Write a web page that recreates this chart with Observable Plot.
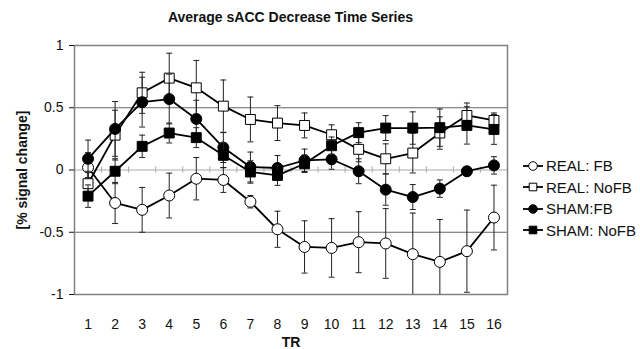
<!DOCTYPE html>
<html>
<head>
<meta charset="utf-8">
<script src="https://cdn.jsdelivr.net/npm/d3@7"></script>
<script src="https://cdn.jsdelivr.net/npm/@observablehq/plot@0.6"></script>
<style>
  html, body { margin: 0; padding: 0; background: #fff; }
  #wrap { position: relative; width: 640px; height: 349px; font-family: "Liberation Sans", Arial, sans-serif; }
  #title { position: absolute; left: 74px; width: 433px; top: 9px; text-align: center; font-weight: bold; font-size: 14px; color: #111; }
  #legend { position: absolute; left: 521px; top: 155px; font-size: 15px; color: #111; }
  .row { height: 21.5px; display: flex; align-items: center; white-space: nowrap; }
  .row svg { margin-right: 1px; }
  svg [aria-label="y-axis label"], svg [aria-label="x-axis label"] { font-weight: bold; }
</style>
</head>
<body>
<div id="wrap">
  <div id="chart"></div>
  <div id="title">Average sACC Decrease Time Series</div>
  <div id="legend"></div>
</div>
<script>
const TR = [1, 2, 3, 4, 5, 6, 7, 8, 9, 10, 11, 12, 13, 14, 15, 16];
const seriesNames = ["REAL: FB", "REAL: NoFB", "SHAM:FB", "SHAM: NoFB"];

const realFB     = [0.02, -0.265, -0.32, -0.205, -0.07, -0.08, -0.255, -0.476, -0.618, -0.626, -0.58, -0.59, -0.676, -0.738, -0.652, -0.382];
const realFBErr  = [0.12, 0.165, 0.18, 0.18, 0.17, 0.1, 0.05, 0.145, 0.21, 0.235, 0.245, 0.28, 0.33, 0.34, 0.33, 0.26];
const realNoFB    = [-0.11, 0.28, 0.62, 0.738, 0.66, 0.513, 0.406, 0.377, 0.358, 0.283, 0.166, 0.09, 0.136, 0.297, 0.438, 0.398];
const realNoFBErr = [0.1, 0.2, 0.165, 0.2, 0.22, 0.21, 0.18, 0.14, 0.1, 0.08, 0.1, 0.12, 0.16, 0.13, 0.1, 0.06];
const shamFB     = [0.09, 0.33, 0.545, 0.57, 0.41, 0.18, 0.024, 0.016, 0.078, 0.086, -0.01, -0.158, -0.217, -0.15, -0.01, 0.037];
const shamFBErr  = [0.15, 0.22, 0.2, 0.2, 0.15, 0.12, 0.12, 0.1, 0.09, 0.08, 0.1, 0.125, 0.1, 0.07, 0.03, 0.07];
const shamNoFB    = [-0.21, -0.01, 0.19, 0.297, 0.26, 0.118, -0.016, -0.043, 0.05, 0.195, 0.3, 0.337, 0.337, 0.34, 0.358, 0.326];
const shamNoFBErr = [0.09, 0.1, 0.09, 0.08, 0.08, 0.1, 0.09, 0.08, 0.07, 0.07, 0.08, 0.1, 0.13, 0.15, 0.15, 0.12];

const yTicks = [-1, -0.5, 0, 0.5, 1];

const styles = [
  {symbol: "circle", fill: "white", r: 5.5},
  {symbol: "square", fill: "white", r: 5.6},
  {symbol: "circle", fill: "black", r: 5.5},
  {symbol: "square", fill: "black", r: 5.6}
];
const allValues = [realFB, realNoFB, shamFB, shamNoFB];
const allErr = [realFBErr, realNoFBErr, shamFBErr, shamNoFBErr];

const series = seriesNames.map((name, k) => ({
  name, ...styles[k],
  rows: TR.map((t, i) => ({tr: t, v: allValues[k][i], e: allErr[k][i]}))
}));

const bounds = TR.slice(0, -1).map(t => t + 0.5);
const capHalf = 0.11;

const marks = [
  Plot.ruleY([0.5, -0.5], {stroke: "#666", strokeWidth: 1.2}),
  Plot.ruleY([0], {stroke: "#aaa", strokeWidth: 1.2}),
  Plot.ruleX(bounds, {y1: -0.025, y2: 0.025, stroke: "#aaa"}),
  Plot.frame({stroke: "#808080", strokeWidth: 1.5}),
  Plot.axisY({ticks: yTicks, tickFormat: d => String(d), tickSize: 5, tickPadding: 6, fontSize: 14,
              label: "[% signal change]", labelAnchor: "center", labelOffset: 57, labelArrow: "none"}),
  Plot.axisX({ticks: TR, tickFormat: d => String(d), tickSize: 0, tickPadding: 25, fontSize: 14,
              label: "TR", labelAnchor: "center", labelOffset: 52, labelArrow: "none"})
];

for (const s of series) {
  marks.push(
    Plot.ruleX(s.rows, {x: "tr", y1: d => d.v - d.e, y2: d => d.v + d.e, stroke: "#222", strokeWidth: 1, clip: true}),
    Plot.link(s.rows, {x1: d => d.tr - capHalf, x2: d => d.tr + capHalf, y1: d => d.v + d.e, y2: d => d.v + d.e, stroke: "#222", strokeWidth: 1, clip: true}),
    Plot.link(s.rows, {x1: d => d.tr - capHalf, x2: d => d.tr + capHalf, y1: d => d.v - d.e, y2: d => d.v - d.e, stroke: "#222", strokeWidth: 1, clip: true}),
    Plot.line(s.rows, {x: "tr", y: "v", stroke: "black", strokeWidth: 1.8}),
    Plot.dot(s.rows, {x: "tr", y: "v", symbol: s.symbol, r: s.r, fill: s.fill, stroke: "black", strokeWidth: 1})
  );
}

const chart = Plot.plot({
  width: 640,
  height: 349,
  marginLeft: 74,
  marginRight: 133,
  marginTop: 45,
  marginBottom: 55,
  style: {fontFamily: "'Liberation Sans', Arial, sans-serif", fontSize: "14px", color: "#111", background: "white"},
  x: {domain: [0.5, 16.5], label: null},
  y: {domain: [-1, 1], label: null},
  marks
});
document.getElementById("chart").appendChild(chart);

// legend
const legend = document.getElementById("legend");
for (const s of series) {
  const row = document.createElement("div");
  row.className = "row";
  const w = 24, h = 14, cx = 12, cy = 7;
  const ns = "http://www.w3.org/2000/svg";
  const svg = document.createElementNS(ns, "svg");
  svg.setAttribute("width", w); svg.setAttribute("height", h);
  const ln = document.createElementNS(ns, "line");
  ln.setAttribute("x1", 2); ln.setAttribute("x2", 22); ln.setAttribute("y1", cy); ln.setAttribute("y2", cy);
  ln.setAttribute("stroke", "black"); ln.setAttribute("stroke-width", 1.8);
  svg.appendChild(ln);
  const sym = d3.symbol(s.symbol === "circle" ? d3.symbolCircle : d3.symbolSquare, 4.3 * 4.3 * Math.PI)();
  const p = document.createElementNS(ns, "path");
  p.setAttribute("d", sym); p.setAttribute("transform", `translate(${cx},${cy})`);
  p.setAttribute("fill", s.fill); p.setAttribute("stroke", "black"); p.setAttribute("stroke-width", 1);
  svg.appendChild(p);
  row.appendChild(svg);
  const span = document.createElement("span");
  span.textContent = s.name;
  row.appendChild(span);
  legend.appendChild(row);
}
</script>
</body>
</html>
